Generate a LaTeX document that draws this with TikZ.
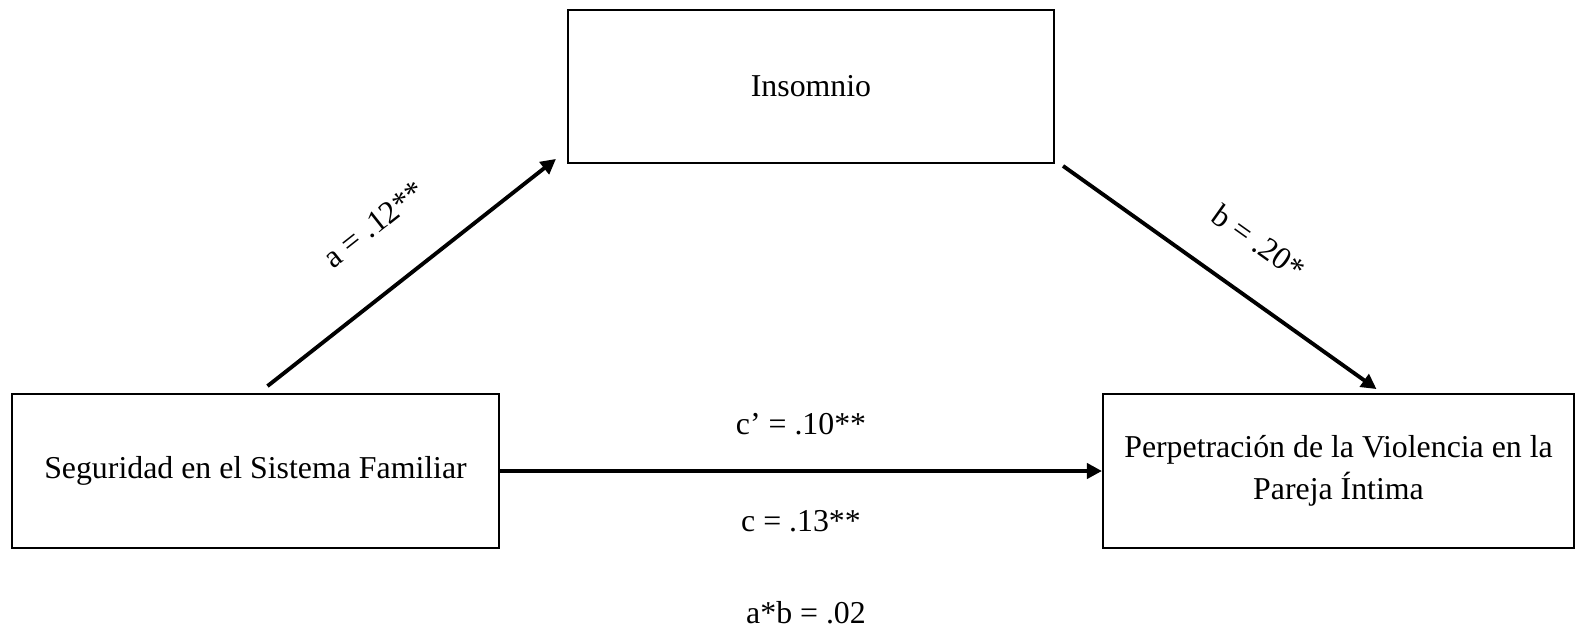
\documentclass[tikz,border=0pt]{standalone}
\usepackage{fontspec}
\setmainfont{Liberation Serif}
\usetikzlibrary{arrows.meta,positioning}
\tikzset{
  caja/.style   = {draw=black, line width=0.5pt, inner sep=0pt, align=center,
                   font=\fontsize{9.05pt}{11.9pt}\selectfont},
  flecha/.style = {draw=black, line width=1.1pt,
                   -{Triangle[length=4.3pt,width=4.3pt]}},
  etiq/.style   = {font=\fontsize{9.05pt}{11pt}\selectfont, inner sep=1pt},
}

\begin{document}
\begin{tikzpicture}[x=0.01cm,y=-0.01cm]
  \useasboundingbox (0,0) rectangle (1576,633);

  \node[caja, minimum width=4.87cm, minimum height=1.54cm] (seg) at (255.5,471)
    {Seguridad en el Sistema Familiar};
  \node[caja, minimum width=4.86cm, minimum height=1.53cm] (ins) at (811,86.5)
    {Insomnio};
  \node[caja, minimum width=4.71cm, minimum height=1.54cm] (pvi) at (1338.5,471)
    {Perpetración de la Violencia en la\\Pareja Íntima};

  % extremos libres de las flechas a y b
  \coordinate (aini) at ([shift={(12,-7)}]seg.north);
  \coordinate (afin) at ([shift={(-11,-5)}]ins.south west);
  \coordinate (bini) at ([shift={(8,2)}]ins.south east);
  \coordinate (bfin) at ([shift={(38,-4)}]pvi.north);

  \draw[flecha] (aini) -- node[etiq, sloped, above=0.45cm] {a = .12**} (afin);
  \draw[flecha] (bini) -- node[etiq, sloped, above=0.35cm, pos=0.53] {b = .20*} (bfin);
  \draw[flecha] (seg.east) --
    node[etiq, above=0.31cm] (cprima) {c’ = .10**}
    node[etiq, below=0.34cm] (ctot) {c = .13**} (pvi.west);

  \node[etiq] (ab) at (806,613) {a*b = .02};
\end{tikzpicture}
\end{document}
